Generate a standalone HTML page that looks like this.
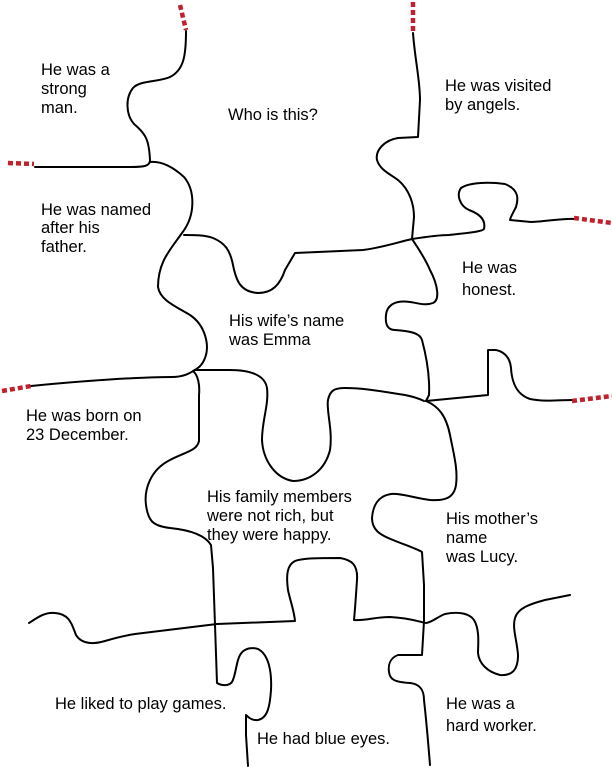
<!DOCTYPE html>
<html><head><meta charset="utf-8"><style>
html,body{margin:0;padding:0;background:#fff;}
svg{display:block}
text{font-family:"Liberation Sans",sans-serif;font-size:16.5px;fill:#000;}
</style></head><body>
<svg width="612" height="768" viewBox="0 0 612 768" xmlns="http://www.w3.org/2000/svg">
<g fill="none" stroke="#000" stroke-width="2" stroke-linecap="round" stroke-linejoin="round">
<path d="M186,31 C186,55 184,70 170,77 C160,82 140,80 133,88 C125,98 126,115 134,124 C146,134 149,140 150,160 C150,166 145,167 130,167 L35,167"/>
<path d="M150,162 C160,161 172,166 184,177 C195,190 196,215 182,233 C170,250 158,262 158,287 C160,300 175,306 190,315 C205,325 210,345 205,358 C202,366 197,369 193,371 C198,375 200,385 199,395 L199,441 C197,451 185,452 170,460 C150,470 144,490 146,505 C148,520 152,526 170,528 C190,530 205,535 211,545 L213,568 L215,625 L217,683 C222,686 229,686 232,682 C236,675 236,662 240,655 C244,648 252,647 258,649 C268,654 272,670 271,690 C270,705 268,718 258,720 C252,721 248,717 246,715 L246,735 L248,766"/>
<path d="M31,386 C80,381 140,377 172,377 C184,377 190,373 195,370"/>
<path d="M184,235 C195,235 205,235 213,238 C225,243 230,250 233,265 C236,280 240,292 258,293 C272,293 280,285 285,270 L295,253 L363,250 C380,248 395,243 412,239 C425,237 440,235 449,235 C465,233 482,232 484,229 C486,220 480,214 469,210 C460,206 456,195 461,188 C470,182 490,182 505,184 C520,190 518,200 516,207 C513,213 510,218 510,220 L531,222 C550,221 565,218 574,219"/>
<path d="M413,33 C415,60 420,80 420,100 L418,137 L398,138 C385,140 375,150 377,160 C380,170 390,174 398,180 C410,190 414,205 414,217 L412,239"/>
<path d="M412,239 C418,248 425,258 430,270 C438,285 440,300 433,303 C425,306 418,303 410,302 C395,300 387,305 386,315 C385,325 388,330 395,330 C410,331 420,333 422,340 C426,355 430,375 429,395 L426,401"/>
<path d="M426,401 L488,395 L488,350 L496,350 C505,352 510,358 511,368 C512,385 518,395 530,399 C545,402 560,400 572,400"/>
<path d="M195,370 L230,370 C250,370 265,375 267,388 C269,405 262,420 262,440 C263,460 275,478 293,481 C310,481 325,470 330,450 C333,430 326,410 328,400 C330,390 335,388 345,388 C365,388 385,392 405,395 C415,397 420,399 424,401"/>
<path d="M426,401 C438,406 446,415 450,435 C454,455 458,470 456,485 C454,498 445,501 430,500 C415,498 400,493 391,494 C378,496 373,505 372,518 C372,530 380,535 393,540 C405,545 415,548 422,552 L424,585 L424,621 L422,655 L398,655 C390,658 388,665 389,672 C390,680 395,682 410,683 C420,684 424,690 424,700 C426,718 428,740 430,765"/>
<path d="M29,623 C38,617 45,612 55,613 C70,614 72,625 76,635 C82,645 95,644 105,641 C115,638 122,636 135,634 L217,624 L295,621 C294,610 290,600 288,590 C286,575 287,565 295,561 C303,558 320,558 340,558 C352,560 358,565 357,580 C356,595 355,610 354,620 C365,621 375,617 390,617 C410,618 420,622 426,623 C433,622 437,617 445,614 C460,611 470,614 474,620 C480,630 478,645 478,653 C479,664 488,672 500,675 C512,676 518,670 518,655 C517,640 512,628 515,618 C518,608 530,604 545,600 L570,595"/>
</g>
<g fill="none" stroke="#c0222d" stroke-width="4.5" stroke-dasharray="5,3">
<path d="M180,5 L186,30"/>
<path d="M413,2 L413,32"/>
<path d="M8,163 L34,164"/>
<path d="M2,391 L31,386"/>
<path d="M574,218 L612,223"/>
<path d="M572,401 L612,396"/>
</g>
<text x="41" y="75">He was a</text>
<text x="41" y="94">strong</text>
<text x="41" y="113">man.</text>
<text x="228" y="120">Who is this?</text>
<text x="445" y="91">He was visited</text>
<text x="445" y="110">by angels.</text>
<text x="41" y="215">He was named</text>
<text x="41" y="233">after his</text>
<text x="41" y="252">father.</text>
<text x="462" y="273">He was</text>
<text x="462" y="295">honest.</text>
<text x="229" y="326">His wife’s name</text>
<text x="229" y="345">was Emma</text>
<text x="26" y="421">He was born on</text>
<text x="26" y="440">23 December.</text>
<text x="207" y="502">His family members</text>
<text x="207" y="521">were not rich, but</text>
<text x="207" y="540">they were happy.</text>
<text x="446" y="524">His mother’s</text>
<text x="446" y="543">name</text>
<text x="446" y="562">was Lucy.</text>
<text x="55" y="709">He liked to play games.</text>
<text x="257" y="744">He had blue eyes.</text>
<text x="446" y="709">He was a</text>
<text x="446" y="731">hard worker.</text>
</svg>
</body></html>
